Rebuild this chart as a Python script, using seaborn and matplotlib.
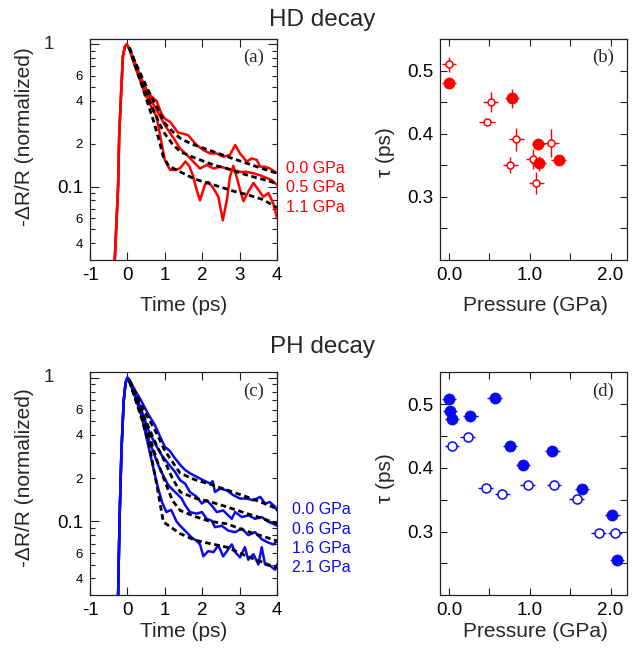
import matplotlib
matplotlib.use("Agg")
import matplotlib.pyplot as plt
from matplotlib.ticker import FixedLocator, FixedFormatter, MultipleLocator, FormatStrFormatter
import numpy as np
import seaborn as sns

# ---------------- HD decay, panel (a) ----------------
hd_rise_t = [-0.36, -0.34, -0.25, -0.22, -0.16, -0.12, -0.07, -0.02]
hd_rise_v = [0.02, 0.03, 0.10, 0.23, 0.51, 0.83, 0.96, 1.00]

hd00_t = [0.05, 0.2, 0.37, 0.5, 0.64, 0.78, 0.9, 1.0, 1.14, 1.35, 1.5, 1.62, 1.75, 1.85, 2.03,
          2.21, 2.39, 2.56, 2.74, 2.88, 3.01, 3.19, 3.32, 3.46, 3.55, 3.68, 3.81, 3.95, 4.0]
hd00_v = [0.93, 0.75, 0.57, 0.48, 0.43, 0.40, 0.33, 0.30, 0.285, 0.24, 0.235, 0.23, 0.21, 0.196, 0.181,
          0.171, 0.171, 0.162, 0.167, 0.196, 0.171, 0.150, 0.158, 0.154, 0.138, 0.138, 0.134, 0.127, 0.125]

hd05_t = [0.05, 0.2, 0.43, 0.6, 0.78, 1.0, 1.23, 1.41, 1.59, 1.76, 1.94, 2.12, 2.3, 2.48, 2.66,
          2.83, 3.01, 3.19, 3.37, 3.55, 3.72, 3.86, 4.0]
hd05_v = [0.93, 0.72, 0.53, 0.42, 0.346, 0.27, 0.22, 0.185, 0.167, 0.150, 0.134, 0.142, 0.134, 0.138, 0.134,
          0.131, 0.127, 0.127, 0.124, 0.120, 0.115, 0.111, 0.103]

hd11_t = [0.05, 0.2, 0.43, 0.6, 0.78, 0.9, 1.0, 1.14, 1.3, 1.41, 1.55, 1.65, 1.75, 1.85, 1.94, 2.07,
          2.16, 2.3, 2.43, 2.55, 2.66, 2.74, 2.83, 2.92, 3.01, 3.1, 3.23, 3.37, 3.5, 3.63, 3.77, 3.9, 4.0]
hd11_v = [0.93, 0.70, 0.48, 0.38, 0.31, 0.21, 0.154, 0.131, 0.131, 0.135, 0.150, 0.140, 0.12, 0.095, 0.080, 0.103,
          0.108, 0.097, 0.085, 0.058, 0.081, 0.117, 0.140, 0.117, 0.095, 0.079, 0.092, 0.106, 0.095, 0.085, 0.090, 0.076, 0.060]

hd_fit00_t = [0.05, 0.2, 0.4, 0.6, 0.78, 1.0, 1.2, 1.41, 1.7, 2.3, 2.83, 3.19, 3.6, 4.0]
hd_fit00_v = [0.95, 0.76, 0.58, 0.45, 0.365, 0.279, 0.245, 0.219, 0.20, 0.176, 0.157, 0.146, 0.134, 0.124]
hd_fit05_t = [0.05, 0.2, 0.4, 0.55, 0.69, 0.96, 1.2, 1.41, 1.7, 2.3, 2.66, 3.0, 3.37, 3.7, 4.0]
hd_fit05_v = [0.95, 0.74, 0.52, 0.42, 0.346, 0.243, 0.20, 0.176, 0.163, 0.142, 0.134, 0.125, 0.117, 0.111, 0.105]
hd_fit11_t = [0.05, 0.2, 0.4, 0.55, 0.69, 0.85, 0.96, 1.1, 1.41, 1.8, 2.3, 2.83, 3.19, 3.63, 4.0]
hd_fit11_v = [0.95, 0.72, 0.50, 0.38, 0.294, 0.21, 0.162, 0.14, 0.127, 0.113, 0.103, 0.093, 0.088, 0.081, 0.071]

hd_labels = ["0.0 GPa", "0.5 GPa", "1.1 GPa"]

# ---------------- HD tau vs pressure, panel (b) ----------------
hd_open_p = [0.0, 0.516, 0.474, 0.833, 0.759, 1.266, 1.04, 1.08]
hd_open_tau = [0.510, 0.450, 0.419, 0.391, 0.350, 0.385, 0.360, 0.322]
hd_open_perr = [0.09, 0.095, 0.1, 0.095, 0.09, 0.1, 0.09, 0.09]
hd_open_terr = [0.012, 0.016, 0.003, 0.018, 0.013, 0.022, 0.016, 0.017]

hd_fill_p = [0.0, 0.78, 1.105, 1.11, 1.357]
hd_fill_tau = [0.480, 0.456, 0.384, 0.353, 0.359]
hd_fill_perr = [0.09, 0.09, 0.08, 0.09, 0.09]
hd_fill_terr = [0.008, 0.015, 0.006, 0.012, 0.005]

# ---------------- PH decay, panel (c) ----------------
ph_rise_t = [-0.29, -0.25, -0.21, -0.16, -0.10, -0.05, 0.0]
ph_rise_v = [0.02, 0.03, 0.105, 0.31, 0.69, 0.92, 1.00]

ph00_t = [0.05, 0.2, 0.37, 0.55, 0.73, 0.87, 1.0, 1.13, 1.26, 1.41, 1.54, 1.67, 1.85, 2.03, 2.21, 2.28,
          2.34, 2.48, 2.66, 2.83, 3.01, 3.19, 3.37, 3.55, 3.68, 3.81, 3.95, 4.0]
ph00_v = [0.97, 0.82, 0.69, 0.56, 0.47, 0.39, 0.33, 0.31, 0.277, 0.247, 0.228, 0.216, 0.204, 0.193, 0.183, 0.19,
          0.160, 0.169, 0.164, 0.152, 0.144, 0.144, 0.140, 0.148, 0.133, 0.136, 0.126, 0.119]

ph06_t = [0.05, 0.2, 0.37, 0.55, 0.73, 0.91, 1.1, 1.26, 1.41, 1.54, 1.67, 1.85, 1.99, 2.12, 2.25, 2.39,
          2.56, 2.79, 2.88, 3.06, 3.24, 3.41, 3.59, 3.77, 3.9, 4.0]
ph06_v = [0.97, 0.78, 0.60, 0.437, 0.35, 0.29, 0.25, 0.223, 0.193, 0.183, 0.160, 0.148, 0.133, 0.140, 0.129, 0.116,
          0.119, 0.104, 0.116, 0.107, 0.110, 0.104, 0.107, 0.099, 0.096, 0.093]

ph16_t = [0.05, 0.2, 0.37, 0.55, 0.68, 0.82, 0.95, 1.09, 1.22, 1.35, 1.45, 1.54, 1.67, 1.85, 1.99, 2.12,
          2.25, 2.34, 2.52, 2.70, 2.88, 3.06, 3.23, 3.41, 3.59, 3.77, 3.9, 4.0]
ph16_v = [0.96, 0.75, 0.55, 0.382, 0.31, 0.248, 0.21, 0.179, 0.165, 0.153, 0.144, 0.130, 0.116, 0.113, 0.116, 0.104,
          0.101, 0.091, 0.093, 0.086, 0.084, 0.089, 0.080, 0.084, 0.075, 0.071, 0.069, 0.073]

ph21_t = [0.05, 0.2, 0.37, 0.55, 0.7, 0.82, 0.93, 1.04, 1.17, 1.31, 1.41, 1.54, 1.72, 1.85, 1.94, 2.03,
          2.16, 2.30, 2.43, 2.56, 2.70, 2.79, 2.88, 3.01, 3.14, 3.23, 3.37, 3.50, 3.59, 3.68, 3.81, 3.95, 4.0]
ph21_v = [0.95, 0.74, 0.558, 0.343, 0.23, 0.17, 0.135, 0.116, 0.12, 0.100, 0.093, 0.086, 0.077, 0.073, 0.069, 0.057,
          0.062, 0.061, 0.068, 0.057, 0.064, 0.069, 0.061, 0.056, 0.066, 0.054, 0.059, 0.050, 0.066, 0.050, 0.049, 0.046, 0.050]

ph_fit00_t = [0.05, 0.2, 0.4, 0.6, 0.8, 1.0, 1.2, 1.41, 1.8, 2.3, 2.66, 3.19, 3.6, 4.0]
ph_fit00_v = [0.96, 0.80, 0.62, 0.50, 0.40, 0.31, 0.26, 0.216, 0.195, 0.178, 0.165, 0.148, 0.135, 0.122]
ph_fit06_t = [0.05, 0.2, 0.4, 0.6, 0.8, 1.0, 1.2, 1.41, 1.8, 2.2, 2.66, 3.2, 3.6, 4.0]
ph_fit06_v = [0.95, 0.76, 0.57, 0.43, 0.33, 0.26, 0.20, 0.160, 0.145, 0.137, 0.126, 0.113, 0.105, 0.096]
ph_fit16_t = [0.05, 0.2, 0.4, 0.6, 0.8, 1.0, 1.2, 1.41, 1.8, 2.2, 2.66, 3.2, 3.6, 4.0]
ph_fit16_v = [0.95, 0.74, 0.53, 0.38, 0.26, 0.19, 0.14, 0.119, 0.108, 0.100, 0.096, 0.085, 0.079, 0.073]
ph_fit21_t = [0.05, 0.2, 0.4, 0.6, 0.8, 0.96, 1.41, 1.8, 2.2, 2.66, 3.2, 3.6, 4.0]
ph_fit21_v = [0.95, 0.72, 0.50, 0.32, 0.17, 0.099, 0.082, 0.074, 0.070, 0.066, 0.057, 0.052, 0.047]

ph_labels = ["0.0 GPa", "0.6 GPa", "1.6 GPa", "2.1 GPa"]

# ---------------- PH tau vs pressure, panel (d) ----------------
ph_fill_p = [0.0, 0.012, 0.037, 0.264, 0.565, 0.755, 0.916, 1.279, 1.646, 2.021, 2.079]
ph_fill_tau = [0.508, 0.489, 0.477, 0.481, 0.509, 0.434, 0.405, 0.426, 0.367, 0.3255, 0.255]
ph_open_p = [0.037, 0.231, 0.454, 0.66, 0.974, 1.30, 1.58, 1.853, 2.054]
ph_open_tau = [0.435, 0.448, 0.368, 0.3595, 0.373, 0.373, 0.351, 0.298, 0.298]
ph_perr = 0.09

RED = "#ff0000"
BLUE = "#0a0af0"

sns.set_theme(style="ticks")
plt.rcParams["font.family"] = ["Liberation Sans", "DejaVu Sans"]
plt.rcParams["axes.linewidth"] = 0.9
plt.rcParams["axes.unicode_minus"] = False

fig = plt.figure(figsize=(6.44, 6.49), dpi=100)
ax_a = fig.add_axes([0.1398, 0.5994, 0.2904, 0.3405])
ax_b = fig.add_axes([0.6837, 0.5994, 0.2899, 0.3405])
ax_c = fig.add_axes([0.1398, 0.0827, 0.2904, 0.3436])
ax_d = fig.add_axes([0.6837, 0.0827, 0.2899, 0.3436])

fig.text(0.5, 0.960, "HD decay", ha="center", va="baseline", fontsize=17.5)
fig.text(0.5, 0.456, "PH decay", ha="center", va="baseline", fontsize=17.5)

minor_log = [0.04, 0.05, 0.06, 0.07, 0.08, 0.09, 0.2, 0.3, 0.4, 0.5, 0.6, 0.7, 0.8, 0.9]
minor_lab = ["4", "", "6", "", "", "", "2", "", "4", "", "6", "", "", ""]


def style_decay(ax, letter, xlab_y, ylab_y):
    ax.set_yscale("log")
    ax.set_xlim(-1, 4)
    ax.set_ylim(0.0305, 1.09)
    ax.xaxis.set_major_locator(MultipleLocator(1))
    ax.yaxis.set_major_locator(FixedLocator([0.1, 1.0]))
    ax.yaxis.set_major_formatter(FixedFormatter(["0.1", ""]))
    ax.yaxis.set_minor_locator(FixedLocator(minor_log))
    ax.yaxis.set_minor_formatter(FixedFormatter(minor_lab))
    ax.tick_params(which="both", direction="in", top=True, right=True, colors="#222222",
                   labelcolor="black", width=0.8)
    ax.tick_params(axis="x", length=5.5, labelsize=13.5, pad=5)
    ax.tick_params(axis="y", which="major", length=6.5, labelsize=13.5, pad=5)
    ax.tick_params(axis="y", which="minor", length=3.5, labelsize=9.5, pad=5)
    ax.text(-0.19, 1.0, "1", transform=ax.get_yaxis_transform(), ha="right", va="center", fontsize=13.5)
    ax.set_xlabel("Time (ps)", fontsize=15)
    ax.set_ylabel("-\u0394R/R (normalized)", fontsize=15)
    ax.xaxis.set_label_coords(0.503, xlab_y)
    ax.yaxis.set_label_coords(-0.30, ylab_y)
    ax.text(0.93, 0.955, letter, transform=ax.transAxes, ha="right", va="top",
            fontsize=13.5, family="Liberation Serif")
    for s in ax.spines.values():
        s.set_color("#222222")


def style_tau(ax, letter, xlab_y, ylab_y):
    ax.set_xlim(-0.108, 2.203)
    ax.set_ylim(0.2, 0.55)
    ax.xaxis.set_major_locator(FixedLocator([0.0, 1.0, 2.0]))
    ax.xaxis.set_major_formatter(FormatStrFormatter("%.1f"))
    ax.xaxis.set_minor_locator(FixedLocator([0.5, 1.5]))
    ax.yaxis.set_major_locator(FixedLocator([0.3, 0.4, 0.5]))
    ax.yaxis.set_major_formatter(FormatStrFormatter("%.1f"))
    ax.yaxis.set_minor_locator(FixedLocator([0.25, 0.35, 0.45]))
    ax.tick_params(which="both", direction="in", top=True, right=True, length=5,
                   width=0.8, colors="#222222", labelcolor="black", labelsize=13.5, pad=5)
    ax.set_xlabel("Pressure (GPa)", fontsize=15)
    ax.set_ylabel("\u03c4 (ps)", fontsize=15)
    ax.xaxis.set_label_coords(0.509, xlab_y)
    ax.yaxis.set_label_coords(-0.24, ylab_y)
    ax.text(0.93, 0.955, letter, transform=ax.transAxes, ha="right", va="top",
            fontsize=13.5, family="Liberation Serif")
    for s in ax.spines.values():
        s.set_color("#222222")


def draw_traces(ax, rise_t, rise_v, traces, fits, color):
    for t, v in traces:
        sns.lineplot(x=rise_t + t, y=rise_v + v, ax=ax, color=color, lw=1.8,
                     sort=False, estimator=None)
    for t, v in fits:
        sns.lineplot(x=t, y=v, ax=ax, color="black", lw=2.0, linestyle=(0, (2.0, 1.3)),
                     sort=False, estimator=None, zorder=3)


# panel (a)
draw_traces(ax_a, hd_rise_t, hd_rise_v,
            [(hd00_t, hd00_v), (hd05_t, hd05_v), (hd11_t, hd11_v)],
            [(hd_fit00_t, hd_fit00_v), (hd_fit05_t, hd_fit05_v), (hd_fit11_t, hd_fit11_v)], RED)
style_decay(ax_a, "(a)", -0.165, 0.558)
for i, lab in enumerate(hd_labels):
    ax_a.text(1.05, 0.416 - 0.09 * i, lab, transform=ax_a.transAxes, color=RED,
              fontsize=11.5, va="center", ha="left")

# panel (c)
draw_traces(ax_c, ph_rise_t, ph_rise_v,
            [(ph00_t, ph00_v), (ph06_t, ph06_v), (ph16_t, ph16_v), (ph21_t, ph21_v)],
            [(ph_fit00_t, ph_fit00_v), (ph_fit06_t, ph_fit06_v), (ph_fit16_t, ph_fit16_v),
             (ph_fit21_t, ph_fit21_v)], BLUE)
style_decay(ax_c, "(c)", -0.12, 0.526)
for i, lab in enumerate(ph_labels):
    ax_c.text(1.08, 0.383 - 0.0865 * i, lab, transform=ax_c.transAxes, color=BLUE,
              fontsize=11.5, va="center", ha="left")

# panel (b)
ax_b.errorbar(hd_open_p, hd_open_tau, xerr=hd_open_perr, yerr=hd_open_terr, fmt="o",
              ms=5, mfc="white", mec=RED, mew=1.1, ecolor=RED, elinewidth=1.0, capsize=0)
ax_b.errorbar(hd_fill_p, hd_fill_tau, xerr=hd_fill_perr, yerr=hd_fill_terr, fmt="o",
              ms=7.5, mfc=RED, mec=RED, ecolor=RED, elinewidth=1.0, capsize=0)
style_tau(ax_b, "(b)", -0.165, 0.486)

# panel (d)
ax_d.errorbar(ph_open_p, ph_open_tau, xerr=ph_perr, fmt="o",
              ms=6.5, mfc="white", mec=BLUE, mew=1.1, ecolor=BLUE, elinewidth=1.0, capsize=0)
ax_d.errorbar(ph_fill_p, ph_fill_tau, xerr=ph_perr, fmt="o",
              ms=7.5, mfc=BLUE, mec=BLUE, ecolor=BLUE, elinewidth=1.0, capsize=0)
style_tau(ax_d, "(d)", -0.12, 0.526)

fig.savefig("out.png", dpi=100)
